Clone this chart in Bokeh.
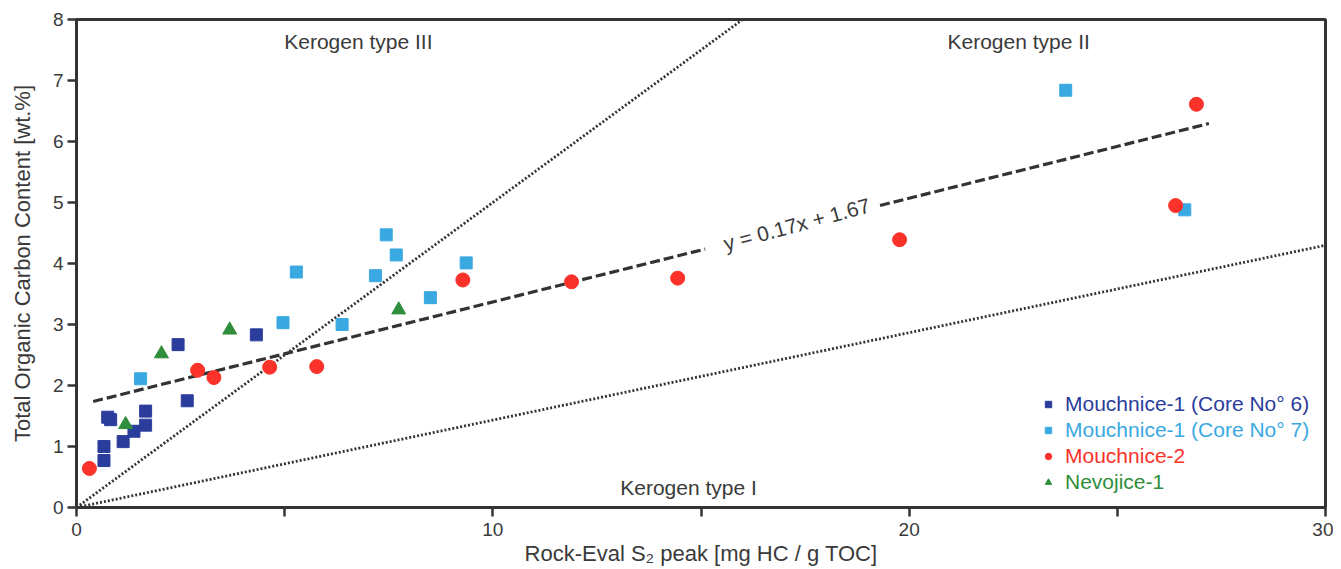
from bokeh.plotting import figure
from bokeh.models import FixedTicker, Legend, LegendItem, Range1d
from bokeh.core.properties import value
from bokeh.embed import file_html
from bokeh.resources import INLINE
import math

# ---- data ----
core6_x = [0.66, 0.66, 0.75, 0.82, 1.12, 1.38, 1.66, 1.66, 2.44, 2.66, 4.32]
core6_y = [1.00, 0.77, 1.48, 1.44, 1.08, 1.25, 1.58, 1.35, 2.67, 1.75, 2.83]

core7_x = [1.54, 4.96, 5.28, 6.38, 7.18, 7.44, 7.68, 8.50, 9.36, 23.76, 26.62]
core7_y = [2.11, 3.03, 3.86, 3.00, 3.80, 4.47, 4.14, 3.44, 4.01, 6.84, 4.88]

mouch2_x = [0.31, 2.91, 3.30, 4.64, 5.77, 9.28, 11.89, 14.44, 19.77, 26.40, 26.90]
mouch2_y = [0.64, 2.25, 2.13, 2.30, 2.31, 3.73, 3.70, 3.76, 4.39, 4.95, 6.61]

nevo_x = [1.18, 2.04, 3.68, 7.74]
nevo_y = [1.36, 2.52, 2.91, 3.24]

series_labels = ["Mouchnice-1 (Core No° 6)", "Mouchnice-1 (Core No° 7)", "Mouchnice-2", "Nevojice-1"]

# regression y = 0.17x + 1.67
reg_slope = 0.17
reg_intercept = 1.67
reg_seg1_x = [0.4, 15.1]
reg_seg2_x = [19.3, 27.2]

# kerogen boundary lines (through origin)
type3_x = [0, 16.2]
type3_slope = 0.5
type1_x = [0, 30]
type1_slope = 0.1433

labels_txt = ["Kerogen type III", "Kerogen type II", "Kerogen type I"]
labels_x = [6.77, 22.63, 14.7]
labels_y = [7.64, 7.64, 0.33]

eq_text = "y = 0.17x + 1.67"
eq_x = 17.3
eq_y = reg_slope * 17.3 + reg_intercept + 0.03

x_ticks = [0, 5, 10, 15, 20, 25, 30]
y_ticks = [0, 1, 2, 3, 4, 5, 6, 7, 8]

FONT = "Liberation Sans"
TXT = "#3a3a3a"
C6 = "#2b3d9c"
C7 = "#3aa9e2"
CR = "#fa3229"
CG = "#2f8e3b"

p = figure(width=1333, height=568, output_backend="svg", toolbar_location=None,
           x_range=Range1d(0, 30), y_range=Range1d(0, 8),
           min_border_left=76, min_border_right=8, min_border_top=19, min_border_bottom=53)
p.xgrid.visible = False
p.ygrid.visible = False
p.outline_line_color = "#333333"
p.outline_line_width = 3

for ax in (p.xaxis[0], p.yaxis[0]):
    ax.axis_line_width = 3
    ax.axis_line_color = "#333333"
    ax.major_tick_line_width = 2.5
    ax.major_tick_line_color = "#333333"
    ax.major_tick_out = 9
    ax.major_tick_in = 0
    ax.minor_tick_line_color = None
    ax.major_label_text_font = FONT
    ax.major_label_text_font_size = "19px"
    ax.major_label_text_color = TXT
    ax.axis_label_text_font = FONT
    ax.axis_label_text_font_size = "22px"
    ax.axis_label_text_font_style = "normal"
    ax.axis_label_text_color = TXT

p.xaxis.ticker = FixedTicker(ticks=x_ticks)
p.xaxis.major_label_overrides = {5: "", 15: "", 25: ""}
p.yaxis.ticker = FixedTicker(ticks=y_ticks)
p.xaxis.axis_label = "Rock-Eval S\u2082 peak [mg HC / g TOC]"
p.yaxis.axis_label = "Total Organic Carbon Content [wt.%]"
p.xaxis.major_label_standoff = 6
p.yaxis.major_label_standoff = 4
p.xaxis.axis_label_standoff = 2
p.yaxis.axis_label_standoff = 15

# kerogen lines
p.line(type3_x, [type3_slope * v for v in type3_x], line_color="#333333", line_width=2.8, line_dash="2 2")
p.line(type1_x, [type1_slope * v for v in type1_x], line_color="#333333", line_width=2.8, line_dash="2 2")

# regression line (two segments leaving room for equation)
for seg in (reg_seg1_x, reg_seg2_x):
    p.line(seg, [reg_slope * v + reg_intercept for v in seg], line_color="#333333",
           line_width=3.2, line_dash="10 4")

# data
r6 = p.scatter(core6_x, core6_y, marker="square", size=12, fill_color=C6, line_color=C6)
r7 = p.scatter(core7_x, core7_y, marker="square", size=12, fill_color=C7, line_color=C7)
rr = p.scatter(mouch2_x, mouch2_y, marker="circle", size=14, fill_color=CR, line_color=CR)
rg = p.scatter(nevo_x, nevo_y, marker="triangle", size=14, fill_color=CG, line_color=CG)

# annotations
p.text(labels_x, labels_y, text=labels_txt, text_align="center", text_baseline="middle",
       text_font=value(FONT), text_font_size="21px", text_color=TXT)
ang = math.atan(reg_slope * (489 / 8) / (1249 / 30)) + 0.02
p.text([eq_x], [eq_y], text=[eq_text], angle=ang, text_align="center", text_baseline="middle",
       text_font=value(FONT), text_font_size="21px", text_color=TXT)

# legends (one per series for coloured labels)
rends = [r6, r7, rr, rg]
cols = [C6, C7, CR, CG]
ys = [91, 65, 39, 13]
for lab, r, c, yy in zip(series_labels, rends, cols, ys):
    lg = Legend(items=[LegendItem(label=lab, renderers=[r])], location=(964, yy),
                label_text_color=c, label_text_font=FONT, label_text_font_size="21px",
                border_line_alpha=0, background_fill_alpha=0, padding=0, margin=0,
                glyph_width=16, glyph_height=20, label_height=20, label_standoff=9, spacing=0)
    p.add_layout(lg, "center")

open("out.html", "w").write(file_html(p, INLINE))
